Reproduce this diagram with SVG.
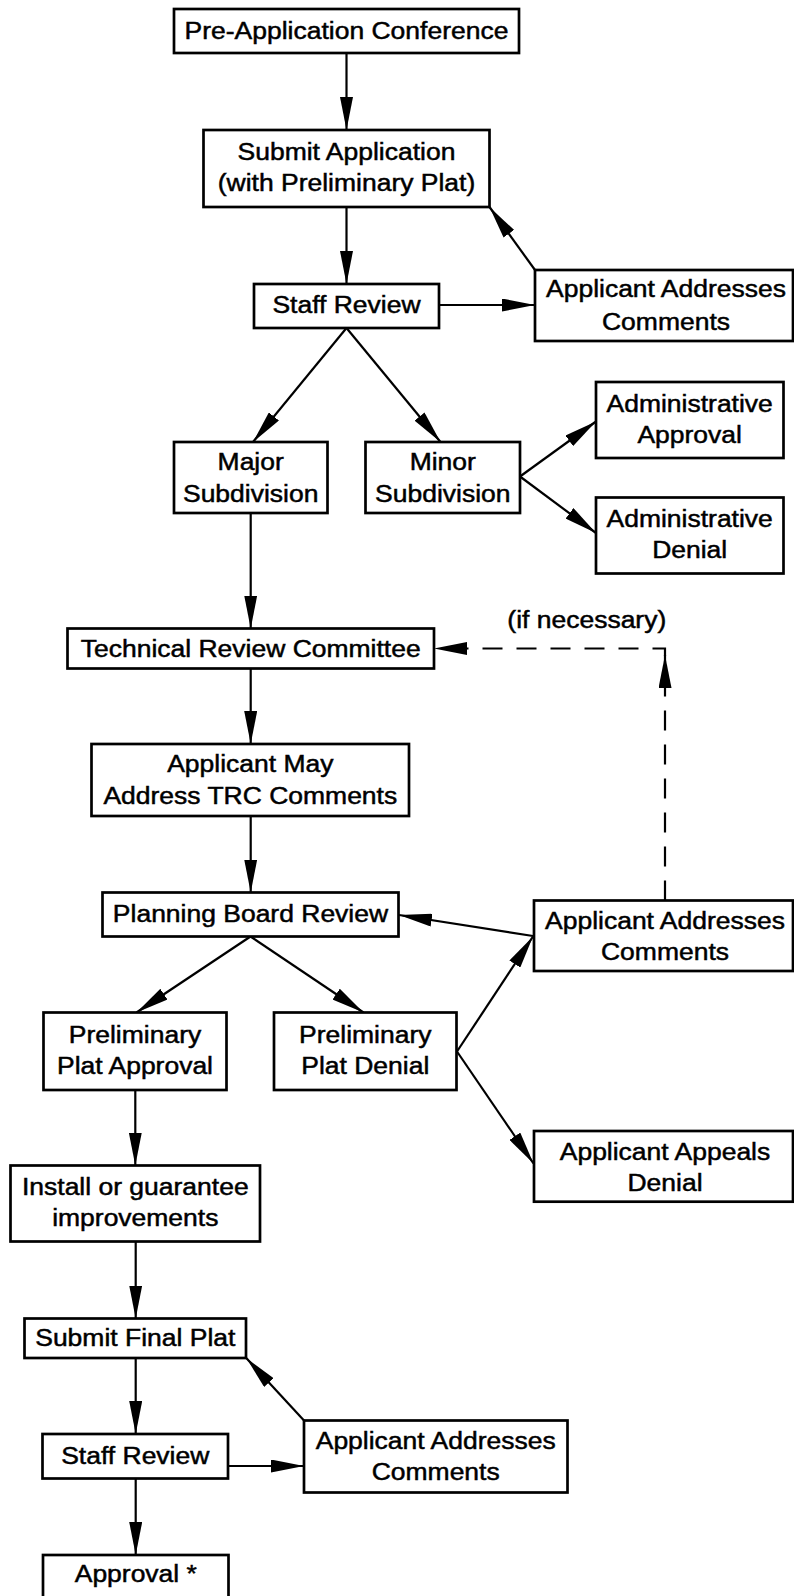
<svg xmlns="http://www.w3.org/2000/svg" width="794" height="1596" viewBox="0 0 794 1596">
<style>
.box{fill:#fff;stroke:#000;stroke-width:2.7}
.t{font-family:"Liberation Sans",Arial,Helvetica,sans-serif;font-size:24.6px;fill:#000;stroke:#000;stroke-width:0.5;text-anchor:middle;transform:scaleX(1.077);transform-box:fill-box;transform-origin:center}
.c{fill:none;stroke:#000;stroke-width:2.2;marker-end:url(#ah)}
.d{stroke-dasharray:20 14}
</style>
<defs>
<marker id="ah" markerUnits="userSpaceOnUse" markerWidth="34" markerHeight="13" refX="33" refY="6.5" orient="auto" viewBox="0 0 34 13">
<path d="M0,0 L33,6.5 L0,13 Z" fill="#000"/>
</marker>
</defs>
<rect width="794" height="1596" fill="#fff"/>
<g id="connectors">
<path class="c" d="M346.5,53 V130"/>
<path class="c" d="M346.5,207 V284"/>
<path class="c" d="M439,305 H535"/>
<path class="c" d="M535,270 L489.5,207"/>
<path class="c" d="M346.5,328 L253,442"/>
<path class="c" d="M346.5,328 L440.5,442"/>
<path class="c" d="M520,476.5 L596,421.5"/>
<path class="c" d="M520,476.5 L596,533"/>
<path class="c" d="M250.7,513 V628.5"/>
<path class="c" d="M250.7,668.5 V744"/>
<path class="c" d="M250.7,816 V892.5"/>
<path class="c" d="M533,936 L399,915"/>
<path class="c" d="M250.5,936.5 L136.5,1012.5"/>
<path class="c" d="M250.5,936.5 L363.5,1012.5"/>
<path class="c" d="M457,1051.5 L533,936.5"/>
<path class="c" d="M457,1051.5 L533.5,1163.5"/>
<path class="c" d="M135.3,1090 V1165.5"/>
<path class="c" d="M135.7,1241.5 V1318.5"/>
<path class="c" d="M135.7,1358 V1434"/>
<path class="c" d="M228,1466 H304"/>
<path class="c" d="M304,1420.5 L246.5,1358.3"/>
<path class="c" d="M135.7,1478.5 V1555"/>
<path class="c d" d="M665,900.5 V655"/>
<path class="c d" d="M665,656 V648.5 H434"/>
</g>
<g id="preapp"><rect class="box" x="174" y="9" width="345" height="44"/><text class="t" x="346.5" y="39">Pre-Application Conference</text></g>
<g id="submit"><rect class="box" x="203.5" y="130" width="286" height="77"/><text class="t"><tspan x="346.5" y="160">Submit Application</tspan><tspan x="346.5" y="191.5">(with Preliminary Plat)</tspan></text></g>
<g id="staff1"><rect class="box" x="254" y="284" width="185" height="44"/><text class="t" x="346.5" y="313">Staff Review</text></g>
<g id="app1"><rect class="box" x="535" y="270" width="258" height="71"/><text class="t"><tspan x="666" y="297.5">Applicant Addresses</tspan><tspan x="666" y="330">Comments</tspan></text></g>
<g id="major"><rect class="box" x="174" y="442" width="153.5" height="71"/><text class="t"><tspan x="250.7" y="470.5">Major</tspan><tspan x="250.7" y="502">Subdivision</tspan></text></g>
<g id="minor"><rect class="box" x="365.5" y="442" width="154.5" height="71"/><text class="t"><tspan x="442.8" y="470.5">Minor</tspan><tspan x="442.8" y="502">Subdivision</tspan></text></g>
<g id="adminApproval"><rect class="box" x="596" y="382" width="187.5" height="76"/><text class="t"><tspan x="689.7" y="412">Administrative</tspan><tspan x="689.7" y="443.5">Approval</tspan></text></g>
<g id="adminDenial"><rect class="box" x="596" y="497.5" width="187.5" height="76"/><text class="t"><tspan x="689.7" y="527.5">Administrative</tspan><tspan x="689.7" y="558.5">Denial</tspan></text></g>
<g id="ifNecessary"><text class="t" x="586.8" y="628">(if necessary)</text></g>
<g id="trc"><rect class="box" x="67.5" y="628.5" width="366.5" height="40"/><text class="t" x="250.7" y="657">Technical Review Committee</text></g>
<g id="mayAddress"><rect class="box" x="91.5" y="744" width="317.5" height="72"/><text class="t"><tspan x="250.3" y="772.5">Applicant May</tspan><tspan x="250.3" y="804">Address TRC Comments</tspan></text></g>
<g id="pbr"><rect class="box" x="102.5" y="892.5" width="296" height="44"/><text class="t" x="250.5" y="922">Planning Board Review</text></g>
<g id="app2"><rect class="box" x="534" y="900.5" width="259" height="70.5"/><text class="t"><tspan x="665" y="929">Applicant Addresses</tspan><tspan x="665" y="960.5">Comments</tspan></text></g>
<g id="prelimApproval"><rect class="box" x="43.5" y="1012.5" width="183" height="77.5"/><text class="t"><tspan x="135" y="1043">Preliminary</tspan><tspan x="135" y="1074.5">Plat Approval</tspan></text></g>
<g id="prelimDenial"><rect class="box" x="274" y="1012.5" width="182.5" height="77.5"/><text class="t"><tspan x="365.3" y="1043">Preliminary</tspan><tspan x="365.3" y="1074.5">Plat Denial</tspan></text></g>
<g id="appeals"><rect class="box" x="534" y="1131" width="259" height="70.7"/><text class="t"><tspan x="665" y="1160">Applicant Appeals</tspan><tspan x="665" y="1191.5">Denial</tspan></text></g>
<g id="install"><rect class="box" x="10.5" y="1165.5" width="249.5" height="76"/><text class="t"><tspan x="135.3" y="1195">Install or guarantee</tspan><tspan x="135.3" y="1226.5">improvements</tspan></text></g>
<g id="submitFinal"><rect class="box" x="24.5" y="1318.5" width="221.5" height="39.5"/><text class="t" x="135.3" y="1346.5">Submit Final Plat</text></g>
<g id="staff2"><rect class="box" x="42.5" y="1434" width="185.5" height="44.5"/><text class="t" x="135.3" y="1464">Staff Review</text></g>
<g id="app3"><rect class="box" x="304" y="1420.5" width="263.5" height="72"/><text class="t"><tspan x="435.7" y="1449">Applicant Addresses</tspan><tspan x="435.7" y="1480.5">Comments</tspan></text></g>
<g id="approval"><rect class="box" x="43" y="1555" width="185.5" height="60"/><text class="t" x="135.8" y="1582">Approval *</text></g>
</svg>
